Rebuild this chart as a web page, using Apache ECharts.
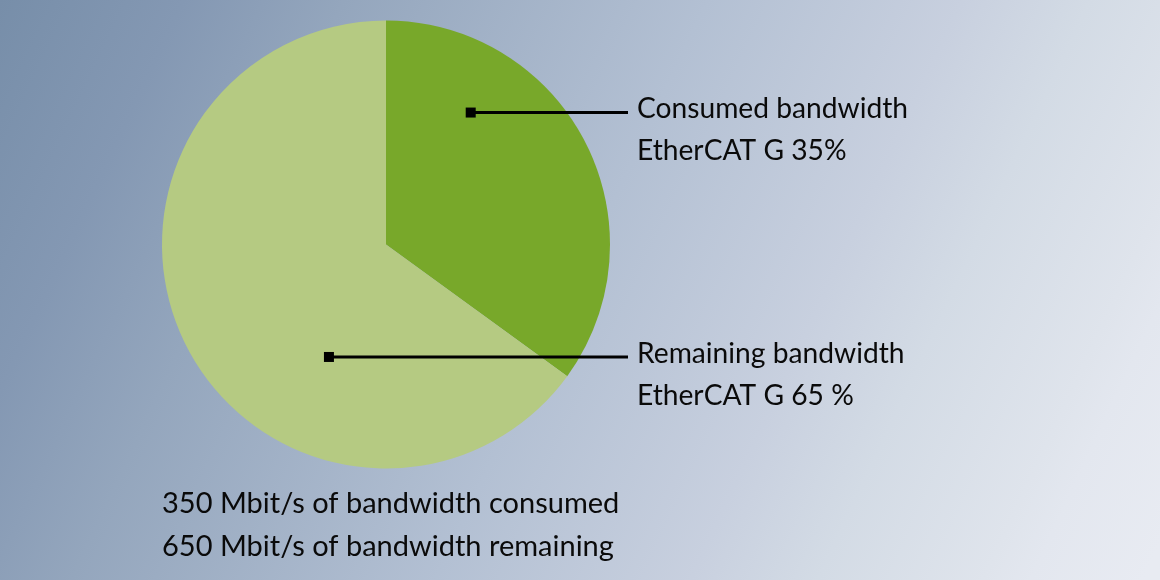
<!DOCTYPE html>
<html><head><meta charset="utf-8">
<script src="https://cdn.jsdelivr.net/npm/echarts@6/dist/echarts.min.js"></script>
<style>html,body{margin:0;padding:0;}#c{width:1160px;height:580px;}</style>
</head><body><div id="c"></div>
<script>
const categories = ['Consumed bandwidth', 'Remaining bandwidth'];
const shares = [35, 65];
const labelLines2 = ['EtherCAT G 35%', 'EtherCAT G 65 %'];
const footerLines = ['350 Mbit/s of bandwidth consumed', '650 Mbit/s of bandwidth remaining'];

const CX = 386, CY = 244.5, R = 224;
const FONT = 'Lato';
const FS = 28.2;
const FS_FOOT = 29;
// annotation anchors: [angle from top clockwise (deg), fraction of radius]
const anchors = [[32.7, 0.70], [206.9, 0.563]];
const labelX = 637, lineEndX = 628;
const labelTops = [88, 333];

function anchorPt(i) {
  const a = anchors[i][0] * Math.PI / 180, r = anchors[i][1] * R;
  return [CX + r * Math.sin(a), CY - r * Math.cos(a)];
}

const chart = echarts.init(document.getElementById('c'));
const colors = ['#78a82a', '#b5ca82'];
chart.setOption({
  backgroundColor: new echarts.graphic.LinearGradient(0, 0, 1160, 545, [
    {offset: 0, color: '#778ea9'},
    {offset: 0.13, color: '#8498b3'},
    {offset: 0.243, color: '#94a6bd'},
    {offset: 0.5, color: '#b3c0d3'},
    {offset: 0.68, color: '#c8d0df'},
    {offset: 0.77, color: '#d3dbe5'},
    {offset: 0.887, color: '#dfe4ec'},
    {offset: 0.92, color: '#e3e7ef'},
    {offset: 1, color: '#e8ebf2'}
  ], true),
  animation: false,
  series: [{
    type: 'pie',
    center: [CX, CY],
    radius: R,
    startAngle: 90,
    clockwise: true,
    silent: true,
    data: categories.map((c, i) => ({name: c, value: shares[i], itemStyle: {color: colors[i]}})),
    label: {
      show: true,
      formatter: p => p.name + '\n' + labelLines2[p.dataIndex],
      fontFamily: FONT, fontSize: FS, lineHeight: 42, color: '#0a0a0a',
      align: 'left', overflow: 'none', width: 400
    },
    labelLine: {show: false},
    labelLayout: function (params) {
      const i = params.dataIndex;
      return {x: labelX, y: labelTops[i], align: 'left', verticalAlign: 'top'};
    }
  }],
  graphic: [
    ...anchors.map((a, i) => {
      const p = anchorPt(i);
      return {type: 'line', shape: {x1: p[0], y1: p[1], x2: lineEndX, y2: p[1]}, style: {stroke: '#000', lineWidth: 3}, z: 100};
    }),
    ...anchors.map((a, i) => {
      const p = anchorPt(i);
      return {type: 'rect', shape: {x: p[0] - 5, y: p[1] - 5, width: 10, height: 10}, style: {fill: '#000'}, z: 101};
    }),
    {type: 'text', left: 162, top: 482, style: {text: footerLines.join('\n'), fontFamily: FONT, fontSize: FS_FOOT, lineHeight: 43, fill: '#0a0a0a'}}
  ]
});
</script></body></html>
